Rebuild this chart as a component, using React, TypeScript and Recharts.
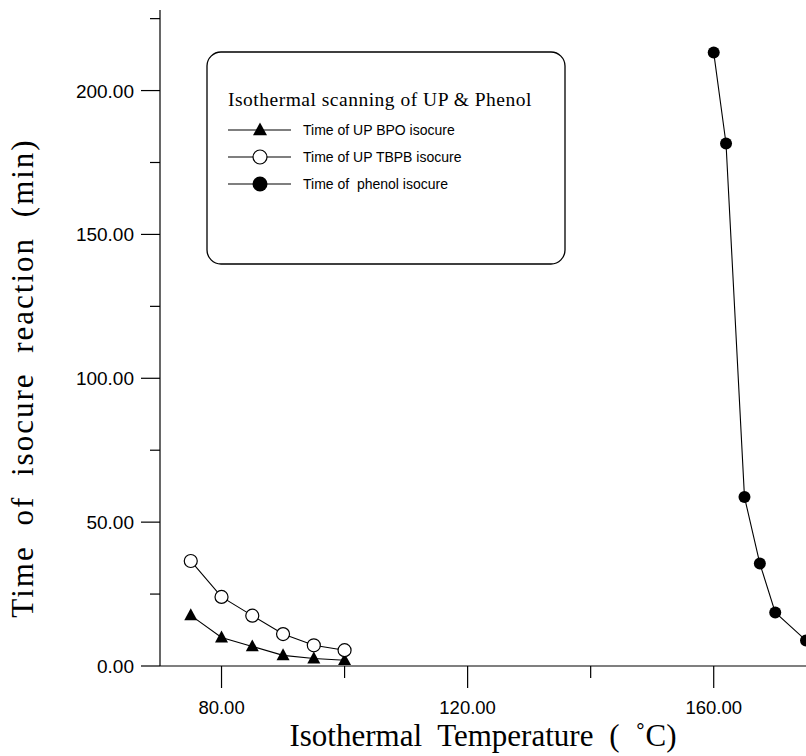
import React from 'react';
import { LineChart, Line, XAxis, YAxis } from 'recharts';

// isothermal temperature (°C) and isocure time (min) per system
const BPO_TEMP = [75, 80, 85, 90, 95, 100];
const BPO_TIME = [17.6, 9.9, 6.8, 3.7, 2.6, 2.0];
const TBPB_TEMP = [75, 80, 85, 90, 95, 100];
const TBPB_TIME = [36.5, 24.0, 17.5, 11.1, 7.2, 5.5];
const PHENOL_TEMP = [160, 162, 165, 167.5, 170, 175];
const PHENOL_TIME = [213.2, 181.6, 58.7, 35.6, 18.6, 8.9];

const X_TICKS = [80, 100, 120, 140, 160];
const X_LABELED = [80, 120, 160];
const Y_TICKS = [0, 25, 50, 75, 100, 125, 150, 175, 200, 225];

const SERIES_NAMES = ['Time of UP BPO isocure', 'Time of UP TBPB isocure', 'Time of  phenol isocure'];
const LEGEND_TITLE = 'Isothermal scanning of UP & Phenol';

const toRows = (xs: number[], ys: number[]) => xs.map((t, i) => ({ t, v: ys[i] }));

const SANS = '"Liberation Sans", Arial, sans-serif';
const SERIF = '"Liberation Serif", "Times New Roman", serif';

const XTick = ({ x, y, payload }: any) => {
  const major = X_LABELED.includes(payload.value);
  return (
    <g>
      <line x1={x} x2={x} y1={y} y2={y + (major ? 22 : 12)} stroke="#000" strokeWidth={1.2} />
      {major && (
        <text x={x} y={y + 48} textAnchor="middle" fontFamily={SANS} fontSize={18.5} fill="#000">
          {payload.value.toFixed(2)}
        </text>
      )}
    </g>
  );
};

const YTick = ({ x, y, payload }: any) => {
  const major = payload.value % 50 === 0;
  return (
    <g>
      <line x1={x - (major ? 19 : 10)} x2={x} y1={y} y2={y} stroke="#000" strokeWidth={1.2} />
      {major && (
        <text x={x - 26} y={y + 7} textAnchor="end" fontFamily={SANS} fontSize={19} fill="#000">
          {payload.value.toFixed(2)}
        </text>
      )}
    </g>
  );
};

const Triangle = ({ cx, cy, size = 6.5 }: any) => (
  <polygon points={`${cx},${cy - size - 0.5} ${cx - size},${cy + size * 0.75} ${cx + size},${cy + size * 0.75}`} fill="#000" />
);
const OpenCircle = ({ cx, cy, r = 6.5 }: any) => (
  <circle cx={cx} cy={cy} r={r} fill="#fff" stroke="#000" strokeWidth={1.2} />
);
const FilledCircle = ({ cx, cy, r = 6 }: any) => <circle cx={cx} cy={cy} r={r} fill="#000" />;

const XLabel = ({ viewBox }: any) => {
  const cx = viewBox ? viewBox.x + viewBox.width / 2 : 483;
  return (
    <text x={cx} y={746} textAnchor="middle" fontFamily={SERIF} fontSize={31} wordSpacing={8} fill="#000">
      Isothermal Temperature ( ˚C)
    </text>
  );
};

const YLabel = () => (
  <text
    x={33}
    y={378}
    transform="rotate(-90, 33, 378)"
    textAnchor="middle"
    fontFamily={SERIF}
    fontSize={31}
    letterSpacing={2}
    wordSpacing={10}
    fill="#000"
  >
    Time of isocure reaction (min)
  </text>
);

const LegendBox = () => {
  const markers = [
    (cx: number, cy: number) => <Triangle cx={cx} cy={cy} size={7} />,
    (cx: number, cy: number) => <OpenCircle cx={cx} cy={cy} r={7} />,
    (cx: number, cy: number) => <FilledCircle cx={cx} cy={cy} r={7.5} />,
  ];
  const rowY = [130, 157, 184];
  return (
    <svg width={806} height={756} style={{ position: 'absolute', left: 0, top: 0, pointerEvents: 'none' }}>
      <rect x={207} y={52} width={358} height={212} rx={14} ry={14} fill="#fff" stroke="#000" strokeWidth={1.3} />
      <text x={228} y={106} fontFamily={SERIF} fontSize={19.5} letterSpacing={0.5} fill="#000">
        {LEGEND_TITLE}
      </text>
      {SERIES_NAMES.map((name, i) => (
        <g key={name}>
          <line x1={228} x2={291} y1={rowY[i]} y2={rowY[i]} stroke="#000" strokeWidth={1.2} />
          {markers[i](260, rowY[i])}
          <text x={303} y={rowY[i] + 5} fontFamily={SANS} fontSize={14} fill="#000" style={{ whiteSpace: 'pre' }}>
            {name}
          </text>
        </g>
      ))}
    </svg>
  );
};

export default function App() {
  return (
    <div style={{ position: 'absolute', left: 0, top: 0, width: 806, height: 756, background: '#fff' }}>
      <LineChart width={806} height={756} margin={{ top: 10, right: 0, bottom: 0, left: 0 }}>
        <XAxis
          type="number"
          dataKey="t"
          domain={[70, 175]}
          ticks={X_TICKS}
          interval={0}
          height={90}
          tickSize={0}
          tickMargin={0}
          tickLine={false}
          tick={<XTick />}
          axisLine={{ stroke: '#000', strokeWidth: 1.2 }}
          label={<XLabel />}
        />
        <YAxis
          type="number"
          domain={[0, 228]}
          ticks={Y_TICKS}
          interval={0}
          width={160}
          tickSize={0}
          tickMargin={0}
          tickLine={false}
          tick={<YTick />}
          axisLine={{ stroke: '#000', strokeWidth: 1.2 }}
          label={<YLabel />}
        />
        <Line
          data={toRows(BPO_TEMP, BPO_TIME)}
          dataKey="v"
          name={SERIES_NAMES[0]}
          stroke="#000"
          strokeWidth={1.1}
          dot={(p: any) => <Triangle key={`b${p.index}`} cx={p.cx} cy={p.cy} />}
          isAnimationActive={false}
        />
        <Line
          data={toRows(TBPB_TEMP, TBPB_TIME)}
          dataKey="v"
          name={SERIES_NAMES[1]}
          stroke="#000"
          strokeWidth={1.1}
          dot={(p: any) => <OpenCircle key={`t${p.index}`} cx={p.cx} cy={p.cy} />}
          isAnimationActive={false}
        />
        <Line
          data={toRows(PHENOL_TEMP, PHENOL_TIME)}
          dataKey="v"
          name={SERIES_NAMES[2]}
          stroke="#000"
          strokeWidth={1.1}
          dot={(p: any) => <FilledCircle key={`p${p.index}`} cx={p.cx} cy={p.cy} />}
          isAnimationActive={false}
        />
      </LineChart>
      <LegendBox />
    </div>
  );
}
